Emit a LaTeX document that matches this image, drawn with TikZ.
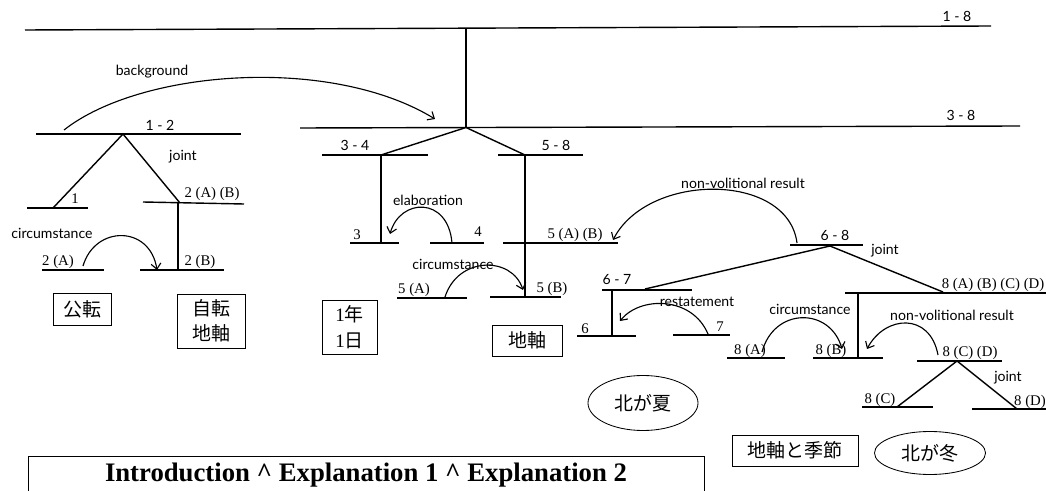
\documentclass[tikz,border=0pt]{standalone}
\usepackage{fontspec}
\setmainfont{Liberation Serif}
\newfontfamily\relfont{Lato}
\newfontfamily\jp{Noto Sans CJK JP}
\usetikzlibrary{arrows.meta, shapes.geometric}

\tikzset{
  span/.style={line width=1pt},
  lab/.style={font=\fontsize{10.5}{12}\selectfont, inner sep=0pt, anchor=base},
  rng/.style={font=\relfont\fontsize{10}{12}\selectfont, inner sep=0pt, anchor=base},
  rel/.style={font=\relfont\fontsize{10}{12}\selectfont, inner sep=0pt},
  relarrow/.style={line width=0.8pt, -{Straight Barb[length=4pt,width=7pt]}},
  jbox/.style={draw, line width=0.6pt, font=\fontsize{13.5}{18}\selectfont, inner sep=0pt, align=center},
  jell/.style={draw, ellipse, line width=0.6pt, font=\jp\fontsize{13.5}{18}\selectfont, inner sep=0pt}
}

\begin{document}
\begin{tikzpicture}[x=0.025cm, y=-0.025cm]
\useasboundingbox (0,0) rectangle (1046,491);
\clip (0,0) rectangle (1046,491);

% whole text and 3-8
\draw[span] (25,30) coordinate (s18-l) -- (991,26) coordinate (s18-r);
\node[rng] (n18) at (957,22) {1 - 8};
\coordinate (top) at (466,28.8);
\coordinate (a38) at (466,127.5);
\draw[span] (top) -- (a38);
\draw[span] (300,128) coordinate (s38-l) -- (1020,126) coordinate (s38-r);
\node[rng] (n38) at (961,121) {3 - 8};

% introduction 1-2
\draw[span] (36,134) coordinate (s12-l) -- (241,134) coordinate (s12-r);
\node[rng] (n12) at (160,131) {1 - 2};
\coordinate (a12) at (123,134);
\coordinate (j1) at (53,208);
\coordinate (j2) at (180,203);
\draw[span] (j1) -- (a12) -- (j2);
\node[rel] (joint12) at (183,157) {joint};
\draw[span] (27,208) coordinate (s1-l) -- (88,208) coordinate (s1-r);
\node[lab] (n1) at (75,204) {1};
\draw[span] (143,202) coordinate (s2-l) -- (244,204) coordinate (s2-r);
\node[lab] (n2) at (212,198) {2 (A) (B)};
\coordinate (j2b) at (178,270);
\draw[span] (178,203) -- (j2b);
\draw[span] (42,270) coordinate (s2a-l) -- (104,270) coordinate (s2a-r);
\node[lab] (n2a) at (58,266) {2 (A)};
\draw[span] (140,270) coordinate (s2b-l) -- (224,270) coordinate (s2b-r);
\node[lab] (n2b) at (200,266) {2 (B)};
\coordinate (c1s) at (83,266);
\coordinate (c1e) at (157,270);
\draw[relarrow] (c1s) .. controls (95,225) and (150,225) .. (c1e);
\node[rel] (circ1) at (52,233) {circumstance};

% background
\coordinate (bgs) at (64,130);
\coordinate (bge) at (435,119);
\draw[relarrow] (bgs) .. controls (140,70) and (330,55) .. (bge);
\node[rel] (bg) at (152,72) {background};

% 3-4
\coordinate (a34) at (381,155);
\coordinate (a58) at (525,155);
\draw[span] (a34) -- (a38) -- (a58);
\draw[span] (322,155) coordinate (s34-l) -- (428,155) coordinate (s34-r);
\node[rng] (n34) at (355,151) {3 - 4};
\draw[span] (a34) -- (381,243) coordinate (j3);
\draw[span] (350,243) coordinate (s3-l) -- (399,243) coordinate (s3-r);
\node[lab] (n3) at (357,240) {3};
\draw[span] (430,243) coordinate (s4-l) -- (484,243) coordinate (s4-r);
\node[lab] (n4) at (478,237) {4};
\coordinate (els) at (452,243);
\coordinate (ele) at (390,234);
\draw[relarrow] (els) .. controls (448,196) and (400,198) .. (ele);
\node[rel] (elab) at (428,200) {elaboration};

% 5-8
\draw[span] (498,155) coordinate (s58-l) -- (583,155) coordinate (s58-r);
\node[rng] (n58) at (556,151) {5 - 8};
\draw[span] (a58) -- (525,297) coordinate (j5b);
\draw[span] (503,243) coordinate (s5-l) -- (618,243) coordinate (s5-r);
\node[lab] (n5) at (575,239) {5 (A) (B)};
\draw[span] (397,298) coordinate (s5a-l) -- (467,298) coordinate (s5a-r);
\node[lab] (n5a) at (414,294) {5 (A)};
\draw[span] (490,297) coordinate (s5b-l) -- (561,297) coordinate (s5b-r);
\node[lab] (n5b) at (552,293) {5 (B)};
\coordinate (c2s) at (445,297);
\coordinate (c2e) at (523,290);
\draw[relarrow] (c2s) .. controls (458,256) and (512,256) .. (c2e);
\node[rel] (circ2) at (453,264) {circumstance};

% 6-8
\draw[span] (790,245) coordinate (s68-l) -- (863,245) coordinate (s68-r);
\node[rng] (n68) at (835,241) {6 - 8};
\coordinate (a68) at (830,246);
\coordinate (j67) at (645,289);
\coordinate (j8) at (943,292);
\draw[span] (j67) -- (a68) -- (j8);
\node[rel] (joint68) at (885,251) {joint};
\coordinate (nv1s) at (797,243);
\coordinate (nv1e) at (613,240);
\draw[relarrow] (nv1s) .. controls (788,172) and (648,172) .. (nv1e);
\node[rel] (nvr1) at (743,183) {non-volitional result};

% 6-7
\draw[span] (602,290) coordinate (s67-l) -- (692,290) coordinate (s67-r);
\node[rng] (n67) at (617,285) {6 - 7};
\draw[span] (612,290) -- (612,336) coordinate (j6);
\draw[span] (577,336) coordinate (s6-l) -- (636,336) coordinate (s6-r);
\node[lab] (n6) at (585,333) {6};
\draw[span] (673,335) coordinate (s7-l) -- (730,335) coordinate (s7-r);
\node[lab] (n7) at (720,331) {7};
\coordinate (rss) at (708,334);
\coordinate (rse) at (620,321);
\draw[relarrow] (rss) .. controls (692,296) and (640,296) .. (rse);
\node[rel] (rest) at (697,302) {restatement};

% 8
\draw[span] (845,293) coordinate (s8-l) -- (1046,293) coordinate (s8-r);
\node[lab] (n8) at (993,289) {8 (A) (B) (C) (D)};
\draw[span] (858,293) -- (858,357) coordinate (j8b);
\draw[span] (727,358) coordinate (s8a-l) -- (785,358) coordinate (s8a-r);
\node[lab] (n8a) at (750,354) {8 (A)};
\draw[span] (813,358) coordinate (s8b-l) -- (883,358) coordinate (s8b-r);
\node[lab] (n8b) at (831,354) {8 (B)};
\coordinate (c3s) at (762,352);
\coordinate (c3e) at (842,349);
\draw[relarrow] (c3s) .. controls (774,307) and (830,307) .. (c3e);
\node[rel] (circ3) at (810,309) {circumstance};
\draw[span] (917,361) coordinate (s8cd-l) -- (1002,361) coordinate (s8cd-r);
\node[lab] (n8cd) at (970,356) {8 (C) (D)};
\coordinate (nv2s) at (938,355);
\coordinate (nv2e) at (867,349);
\draw[relarrow] (nv2s) .. controls (930,312) and (885,315) .. (nv2e);
\node[rel] (nvr2) at (952,315) {non-volitional result};
\coordinate (a8cd) at (957,361);
\coordinate (j8c) at (897,407);
\coordinate (j8d) at (1017,409);
\draw[span] (j8c) -- (a8cd) -- (j8d);
\node[rel] (joint8) at (1008,378) {joint};
\draw[span] (862,407) coordinate (s8c-l) -- (933,407) coordinate (s8c-r);
\node[lab] (n8c) at (880,403) {8 (C)};
\draw[span] (972,409) coordinate (s8d-l) -- (1046,409) coordinate (s8d-r);
\node[lab] (n8d) at (1030,405) {8 (D)};

% keywords
\node[jbox, minimum width=1.45cm, minimum height=0.8cm] (kouten) at (82,309) {\jp 公転};
\node[jbox, minimum width=1.7cm, minimum height=1.35cm] (jiten) at (211,321) {\jp 自転\\\jp 地軸};
\node[jbox, minimum width=1.375cm, minimum height=1.35cm] (nen) at (349.5,327) {1{\jp 年}\\1{\jp 日}};
\node[jbox, minimum width=1.75cm, minimum height=0.775cm] (chijiku) at (527,340.5) {\jp 地軸};
\node[jbox, minimum width=3.15cm, minimum height=0.775cm] (kisetsu) at (795,450.5) {\jp 地軸と季節};
\node[jell, minimum width=2.75cm, minimum height=1.375cm] (natsu) at (643,403) {北が夏};
\node[jell, minimum width=2.775cm, minimum height=1.075cm] (fuyu) at (930,453) {北が冬};

% structure
\node[draw, line width=0.6pt, minimum width=16.875cm, minimum height=1.2cm, inner sep=0pt,
  font=\bfseries\fontsize{19}{22}\selectfont] (intro) at (366.5,480) {};
\node[font=\bfseries\fontsize{19}{22}\selectfont, inner sep=0pt] (introtxt) at (366,475)
  {Introduction \^{} Explanation 1 \^{} Explanation 2};
\end{tikzpicture}
\end{document}
